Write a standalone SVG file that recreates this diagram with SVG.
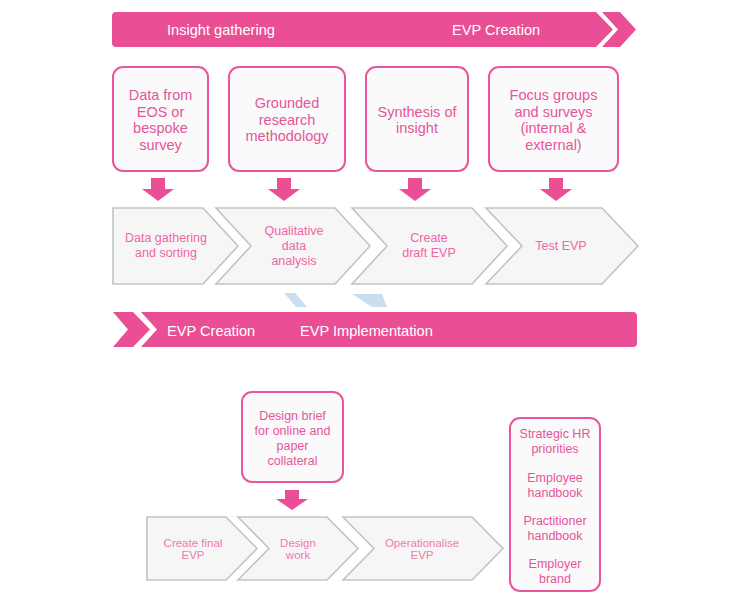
<svg xmlns="http://www.w3.org/2000/svg" width="752" height="601" viewBox="0 0 752 601">
<style>
.band{fill:#ea4f95}
.bt{font-family:"Liberation Sans",Arial,sans-serif;font-size:14.6px;fill:#ffffff}
.box{fill:#fafafa;stroke:#e8579c;stroke-width:2}
.bx{font-family:"Liberation Sans",Arial,sans-serif;font-size:14.5px;fill:#e6559a;text-anchor:middle}
.chev{fill:#f6f6f6;stroke:#c3c3c3;stroke-width:1.6}
.ct{font-family:"Liberation Sans",Arial,sans-serif;font-size:12.5px;fill:#ee66a6;text-anchor:middle}
.ct2{font-family:"Liberation Sans",Arial,sans-serif;font-size:11.5px;fill:#f07ab0;text-anchor:middle}
.rt{font-family:"Liberation Sans",Arial,sans-serif;font-size:12.5px;fill:#e6559a;text-anchor:middle}
.arr{fill:#ea4f95}
.hatch{fill:#c9dff0}
</style>
<g id="banner-top">
<path class="band" d="M116,12 H596 L613,29.5 L596,47 H116 Q112,47 112,43 V16 Q112,12 116,12 Z"/>
<path class="band" d="M602,12 H620 L636,29.5 L620,47 H602 L618,29.5 Z"/>
<text class="bt" x="167" y="35">Insight gathering</text>
<text class="bt" x="452" y="35">EVP Creation</text>
</g>
<g id="box-data-from">
<rect class="box" x="113" y="67" width="95" height="104" rx="10"/>
<text class="bx"><tspan x="160.5" y="100">Data from</tspan><tspan x="160.5" y="116.5">EOS or</tspan><tspan x="160.5" y="133">bespoke</tspan><tspan x="160.5" y="149.5">survey</tspan></text>
</g>
<g id="box-grounded">
<rect class="box" x="229" y="67" width="116" height="104" rx="10"/>
<text class="bx"><tspan x="287" y="108">Grounded</tspan><tspan x="287" y="124.5">research</tspan><tspan x="287" y="141">methodology</tspan></text>
</g>
<g id="box-synthesis">
<rect class="box" x="366" y="67" width="102" height="104" rx="10"/>
<text class="bx"><tspan x="417" y="116.5">Synthesis of</tspan><tspan x="417" y="133">insight</tspan></text>
</g>
<g id="box-focus">
<rect class="box" x="489" y="67" width="129" height="104" rx="10"/>
<text class="bx"><tspan x="553.5" y="100">Focus groups</tspan><tspan x="553.5" y="116.5">and surveys</tspan><tspan x="553.5" y="133">(internal &amp;</tspan><tspan x="553.5" y="149.5">external)</tspan></text>
</g>
<g id="connectors">
<path class="arr" d="M151,178 H165 V189 H174 L158,201 L142,189 H151 Z"/>
<path class="arr" d="M277,178 H291 V189 H300 L284,201 L268,189 H277 Z"/>
<path class="arr" d="M408,178 H422 V189 H431 L415,201 L399,189 H408 Z"/>
<path class="arr" d="M549,178 H563 V189 H572 L556,201 L540,189 H549 Z"/>
<path class="arr" d="M285,490 H299 V499 H308 L292,510 L276,499 H285 Z"/>
</g>
<g id="chev-data-gathering">
<path class="chev" d="M113,208 H203 L238,246 L203,284 H113 Z"/>
<text class="ct"><tspan x="166" y="242">Data gathering</tspan><tspan x="166" y="257">and sorting</tspan></text>
</g>
<g id="chev-qualitative">
<path class="chev" d="M216,208 H335 L370,246 L335,284 H216 L251,246 Z"/>
<text class="ct"><tspan x="294" y="235">Qualitative</tspan><tspan x="294" y="250">data</tspan><tspan x="294" y="265">analysis</tspan></text>
</g>
<g id="chev-create-draft">
<path class="chev" d="M352,208 H472 L507,246 L472,284 H352 L387,246 Z"/>
<text class="ct"><tspan x="429" y="242">Create</tspan><tspan x="429" y="257">draft EVP</tspan></text>
</g>
<g id="chev-test">
<path class="chev" d="M486,208 H602 L638,246 L602,284 H486 L522,246 Z"/>
<text class="ct"><tspan x="561" y="250">Test EVP</tspan></text>
</g>
<g id="hatch">
<path class="hatch" d="M284,293 H295 L307,307 H296 Z"/>
<path class="hatch" d="M352,294 H382 L387,307 H372 Z"/>
</g>
<g id="banner-bottom">
<path class="band" d="M113,312 H133 L150,329.5 L133,347 H113 L128,329.5 Z"/>
<path class="band" d="M141,312 H633 Q637,312 637,316 V343 Q637,347 633,347 H141 L157,329.5 Z"/>
<text class="bt" x="167" y="336">EVP Creation</text>
<text class="bt" x="300" y="336">EVP Implementation</text>
</g>
<g id="box-design-brief">
<rect class="box" x="242" y="392" width="101" height="90" rx="10"/>
<text class="rt"><tspan x="292.5" y="419.5">Design brief</tspan><tspan x="292.5" y="434.5">for online and</tspan><tspan x="292.5" y="449.5">paper</tspan><tspan x="292.5" y="464.5">collateral</tspan></text>
</g>
<g id="chev-create-final">
<path class="chev" d="M147,517 H226 L257,548.5 L226,580 H147 Z"/>
<text class="ct2"><tspan x="193" y="547">Create final</tspan><tspan x="193" y="559">EVP</tspan></text>
</g>
<g id="chev-design-work">
<path class="chev" d="M238,517 H327 L358,548.5 L327,580 H238 L269,548.5 Z"/>
<text class="ct2"><tspan x="298" y="547">Design</tspan><tspan x="298" y="559">work</tspan></text>
</g>
<g id="chev-operationalise">
<path class="chev" d="M343,517 H472 L503,548.5 L472,580 H343 L374,548.5 Z"/>
<text class="ct2"><tspan x="422" y="547">Operationalise</tspan><tspan x="422" y="559">EVP</tspan></text>
</g>
<g id="box-outputs">
<rect class="box" x="510" y="418" width="90" height="173" rx="10"/>
<text class="rt"><tspan x="555" y="437.5">Strategic HR</tspan><tspan x="555" y="452.5">priorities</tspan><tspan x="555" y="481.5">Employee</tspan><tspan x="555" y="496.5">handbook</tspan><tspan x="555" y="524.5">Practitioner</tspan><tspan x="555" y="539.5">handbook</tspan><tspan x="555" y="567.5">Employer</tspan><tspan x="555" y="582.5">brand</tspan></text>
</g>
</svg>
